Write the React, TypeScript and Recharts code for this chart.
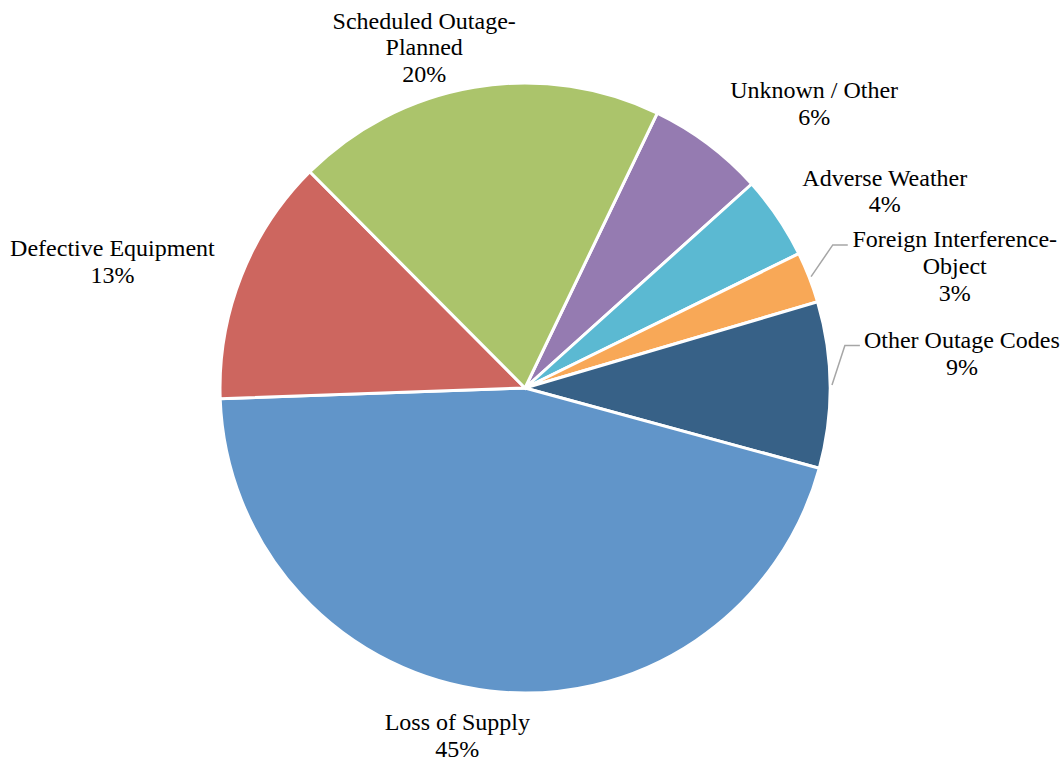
import React from 'react';
import { PieChart, Pie, Cell } from 'recharts';

const NAMES = [
  'Unknown / Other',
  'Adverse Weather',
  'Foreign Interference-\nObject',
  'Other Outage Codes',
  'Loss of Supply',
  'Defective Equipment',
  'Scheduled Outage-\nPlanned',
];
const VALUES = [6.2, 4.4, 2.7, 8.8, 45.2, 13.1, 19.6];
const COLORS = ['#957BB1', '#5BB9D2', '#F8A857', '#376187', '#6195C9', '#CD665F', '#ABC46B'];

// label placement (angle shift from slice middle in degrees, distance as multiple of radius)
const LABEL_SHIFT = [8.6, 5.35, 5.4, -4.0, 4.4, -4.5, -6.9];
const LABEL_DIST = [1.33, 1.345, 1.465, 1.437, 1.16, 1.415, 1.165];
const LEADER = [false, false, true, true, false, false, false];
const LABEL_HALF_WIDTH = [84, 83, 102, 97, 72, 102, 92];

const data = NAMES.map((name, i) => ({ name, value: VALUES[i] }));

const FONT = 24;
const LINE_H = 26.8;

const renderLabel = (props: any) => {
  const { cx, cy, midAngle, outerRadius, percent, index } = props;
  const compass = 90 - midAngle;
  const ang = ((compass + LABEL_SHIFT[index]) * Math.PI) / 180;
  const r = outerRadius * LABEL_DIST[index];
  const x = cx + r * Math.sin(ang);
  const y = cy - r * Math.cos(ang);
  const lines = [...NAMES[index].split('\n'), `${Math.round(percent * 100)}%`];
  const y0 = y - ((lines.length - 1) * LINE_H) / 2;
  let leader = null;
  if (LEADER[index]) {
    const m = (compass * Math.PI) / 180;
    const sx = cx + (outerRadius + 2) * Math.sin(m);
    const sy = cy - (outerRadius + 2) * Math.cos(m);
    const ex = x - LABEL_HALF_WIDTH[index] - 5;
    const ey = y0 + 6;
    leader = (
      <polyline
        points={`${sx},${sy} ${ex - 15},${ey} ${ex},${ey}`}
        fill="none"
        stroke="#A6A6A6"
        strokeWidth={1.5}
      />
    );
  }
  return (
    <g key={`lbl-${index}`}>
      {leader}
      <text
        x={x}
        y={y0}
        textAnchor="middle"
        fontFamily="'Liberation Serif', 'Times New Roman', serif"
        fontSize={FONT}
        fill="#000"
      >
        {lines.map((ln, i) => (
          <tspan key={i} x={x} y={y0 + i * LINE_H + FONT * 0.34}>
            {ln}
          </tspan>
        ))}
      </text>
    </g>
  );
};

export default function App() {
  return (
    <div style={{ position: 'absolute', left: 0, top: 0, width: 1063, height: 761, background: '#fff' }}>
      <PieChart width={1063} height={761} margin={{ top: 0, right: 0, bottom: 0, left: 0 }}>
        <Pie
          data={data}
          dataKey="value"
          nameKey="name"
          cx={525}
          cy={388}
          outerRadius={305}
          startAngle={64.3}
          endAngle={-295.7}
          stroke="#FFFFFF"
          strokeWidth={3}
          labelLine={false}
          label={renderLabel}
          isAnimationActive={false}
        >
          {data.map((d, i) => (
            <Cell key={d.name} fill={COLORS[i]} />
          ))}
        </Pie>
      </PieChart>
    </div>
  );
}
